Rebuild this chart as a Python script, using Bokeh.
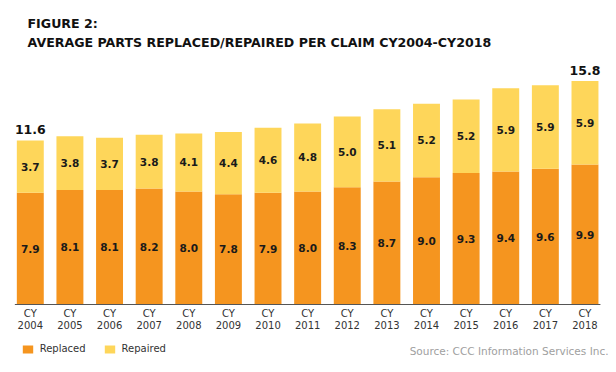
from bokeh.plotting import figure
from bokeh.models import ColumnDataSource, Label, Legend, LegendItem, Range1d
from bokeh.core.properties import value
from bokeh.embed import file_html
from bokeh.resources import INLINE

# ---- data ----
years = ["2004", "2005", "2006", "2007", "2008", "2009", "2010", "2011",
         "2012", "2013", "2014", "2015", "2016", "2017", "2018"]
replaced = [7.9, 8.1, 8.1, 8.2, 8.0, 7.8, 7.9, 8.0, 8.3, 8.7, 9.0, 9.3, 9.4, 9.6, 9.9]
repaired = [3.7, 3.8, 3.7, 3.8, 4.1, 4.4, 4.6, 4.8, 5.0, 5.1, 5.2, 5.2, 5.9, 5.9, 5.9]
total_labels = {"2004": "11.6", "2018": "15.8"}
series_names = ["Replaced", "Repaired"]
title_line1 = "FIGURE 2:"
title_line2 = "AVERAGE PARTS REPLACED/REPAIRED PER CLAIM CY2004-CY2018"
source_note = "Source: CCC Information Services Inc."

# ---- style ----
ORANGE = "#F5951F"
YELLOW = "#FED65A"
W, H = 612, 366
PPU_X = 39.62
PPU_Y = 14.14
X0_PX = 29.8        # canvas px of first bar centre
BASE_PX = 304       # canvas px (from top) of baseline
BAR_W = 0.68

x_start = -X0_PX / PPU_X
x_end = x_start + W / PPU_X
y_end = BASE_PX / PPU_Y
y_start = -(H - BASE_PX) / PPU_Y


def px2x(px):
    return x_start + px / PPU_X


def px2y(py_from_top):
    return y_end - py_from_top / PPU_Y


idx = list(range(len(years)))
mid_rep = [r / 2 for r in replaced]
mid_pair = [r + q / 2 for r, q in zip(replaced, repaired)]
totals = [r + q for r, q in zip(replaced, repaired)]

src = ColumnDataSource(dict(
    x=idx, year=years, Replaced=replaced, Repaired=repaired,
    rep_lbl=[f"{v:.1f}" for v in replaced],
    pair_lbl=[f"{v:.1f}" for v in repaired],
    mid_rep=mid_rep, mid_pair=mid_pair,
    cy=["CY"] * len(years),
))

p = figure(width=W, height=H, output_backend="svg", toolbar_location=None,
           x_range=Range1d(x_start, x_end), y_range=Range1d(y_start, y_end),
           x_axis_location=None, y_axis_location=None, title=None,
           min_border=0, min_border_left=0, min_border_right=0,
           min_border_top=0, min_border_bottom=0,
           background_fill_color="white", border_fill_color="white",
           outline_line_color=None)
p.grid.visible = False

rs = p.vbar_stack(series_names, x="x", width=BAR_W, color=[ORANGE, YELLOW],
                  line_color=None, source=src)

# baseline axis line
p.segment(x0=[idx[0] - BAR_W / 2 - 0.05], x1=[idx[-1] + BAR_W / 2 + 0.05],
          y0=[0], y1=[0], line_color="#555555", line_width=1)

# segment value labels
lbl_kw = dict(text_font=value("DejaVu Sans"), text_font_style="bold",
              text_font_size="10.5px", text_color="#1a1a1a",
              text_align="center", text_baseline="middle")
p.text(x="x", y="mid_rep", text="rep_lbl", source=src, **lbl_kw)
p.text(x="x", y="mid_pair", text="pair_lbl", source=src, **lbl_kw)

# totals at both ends
tx = [i for i, y in enumerate(years) if y in total_labels]
ty = [totals[i] for i in tx]
tt = [total_labels[years[i]] for i in tx]
p.text(x=tx, y=ty, text=tt, y_offset=-6, text_font=value("DejaVu Sans"),
       text_font_style="bold", text_font_size="12.5px", text_color="#111111",
       text_align="center", text_baseline="bottom")

# category tick labels
tick_kw = dict(text_font=value("DejaVu Sans"), text_font_size="10px",
               text_color="#333333", text_align="center", text_baseline="middle")
p.text(x="x", y=0, text="cy", y_offset=9, source=src, **tick_kw)
p.text(x="x", y=0, text="year", y_offset=20.5, source=src, **tick_kw)

# titles
for txt, py in [(title_line1, 22.5), (title_line2, 41.5)]:
    p.add_layout(Label(x=px2x(27), y=px2y(py), text=txt, text_align="left",
                       text_baseline="middle", text_font="DejaVu Sans",
                       text_font_style="bold", text_font_size="12.6px",
                       text_color="#111111"))

# source note
p.add_layout(Label(x=px2x(608), y=px2y(350.5), text=source_note,
                   text_align="right", text_baseline="middle",
                   text_font="DejaVu Sans", text_font_size="10.5px",
                   text_color="#a0a0a0"))

legend = Legend(items=[LegendItem(label=n, renderers=[r]) for n, r in zip(series_names, rs)],
                orientation="horizontal", location=(20.7, 12),
                border_line_color=None, background_fill_alpha=0,
                padding=0, margin=0, spacing=17, glyph_width=13, glyph_height=10,
                label_standoff=6, label_height=10,
                label_text_font="DejaVu Sans", label_text_font_size="10px",
                label_text_color="#333333", label_text_baseline="middle")
p.add_layout(legend)

open("out.html", "w").write(file_html(p, INLINE))
